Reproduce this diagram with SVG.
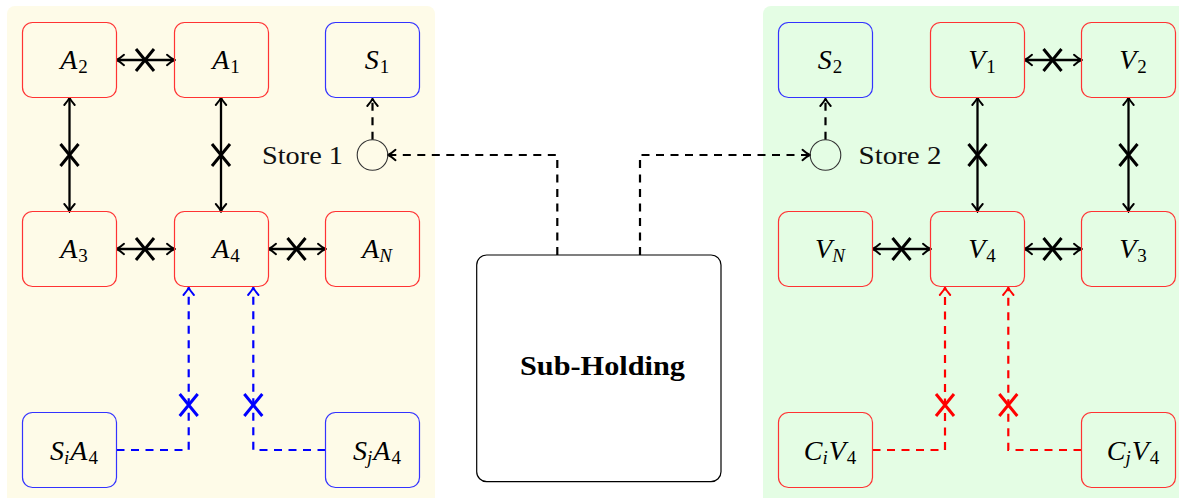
<svg xmlns="http://www.w3.org/2000/svg" xmlns:xlink="http://www.w3.org/1999/xlink" width="1179" height="498" viewBox="0 0 1179 498">
<style>
.rbox{fill:none;stroke:#ff3333;stroke-width:1.2}
.bbox{fill:none;stroke:#3333ff;stroke-width:1.2}
.m{font-family:"Liberation Serif",serif;font-style:italic;font-size:28px;fill:#000;text-anchor:middle}
.sn{font-style:normal;font-size:19px}
.si{font-style:italic;font-size:19px}
.lbl{font-family:"Liberation Serif",serif;font-size:26px;fill:#111}
.k{fill:none;stroke:#000;stroke-width:2.3}
.kd{fill:none;stroke:#000;stroke-width:2.2;stroke-dasharray:8 6.5}
.bd{fill:none;stroke:#0000ff;stroke-width:2.2;stroke-dasharray:8 6.5}
.rd{fill:none;stroke:#ff0000;stroke-width:2.2;stroke-dasharray:8 6.5}
.xk{stroke:#000;stroke-width:3;fill:none}
.xb{stroke:#0000ff;stroke-width:3;fill:none}
.xr{stroke:#ff0000;stroke-width:3;fill:none}
</style>
<defs>
<marker id="ak" viewBox="-10 -7 11 14" refX="0" refY="0" markerWidth="11" markerHeight="14" markerUnits="userSpaceOnUse" orient="auto-start-reverse">
<path d="M-7.5,-5.2 C-4.6,-2.6 -1.8,-0.7 0,0 C-1.8,0.7 -4.6,2.6 -7.5,5.2" fill="none" stroke="#000" stroke-width="1.9" stroke-linecap="round"/>
</marker>
<marker id="ab" viewBox="-10 -7 11 14" refX="0" refY="0" markerWidth="11" markerHeight="14" markerUnits="userSpaceOnUse" orient="auto-start-reverse">
<path d="M-7.5,-5.2 C-4.6,-2.6 -1.8,-0.7 0,0 C-1.8,0.7 -4.6,2.6 -7.5,5.2" fill="none" stroke="#0000ff" stroke-width="1.9" stroke-linecap="round"/>
</marker>
<marker id="ar" viewBox="-10 -7 11 14" refX="0" refY="0" markerWidth="11" markerHeight="14" markerUnits="userSpaceOnUse" orient="auto-start-reverse">
<path d="M-7.5,-5.2 C-4.6,-2.6 -1.8,-0.7 0,0 C-1.8,0.7 -4.6,2.6 -7.5,5.2" fill="none" stroke="#ff0000" stroke-width="1.9" stroke-linecap="round"/>
</marker>
<path id="x" d="M-9,-11 L9,11 M-9,11 L9,-11"/>
</defs>

<g id="backgrounds">
<rect x="7" y="6" width="428" height="500" rx="8" fill="#fefbe8"/>
<rect x="763" y="6" width="430" height="500" rx="8" fill="#e4fde4"/>
</g>

<g id="connectors">
<path class="k" d="M116.5,60 H174.5" marker-start="url(#ak)" marker-end="url(#ak)"/>
<path class="k" d="M69.5,97.5 V211.5" marker-start="url(#ak)" marker-end="url(#ak)"/>
<path class="k" d="M221,97.5 V211.5" marker-start="url(#ak)" marker-end="url(#ak)"/>
<path class="k" d="M116.5,249 H174.5" marker-start="url(#ak)" marker-end="url(#ak)"/>
<path class="k" d="M268.5,249 H325.5" marker-start="url(#ak)" marker-end="url(#ak)"/>
<path class="kd" d="M372.5,139.7 V98.5" marker-end="url(#ak)"/>
<path class="kd" d="M557.3,255 V155 H388" marker-end="url(#ak)"/>
<path class="bd" d="M116.5,450 H188.7 V287.5" marker-end="url(#ab)"/>
<path class="bd" d="M325.5,450 H253.3 V287.5" marker-end="url(#ab)"/>

<path class="k" d="M1024.5,60 H1081.5" marker-start="url(#ak)" marker-end="url(#ak)"/>
<path class="k" d="M977.5,97.5 V211.5" marker-start="url(#ak)" marker-end="url(#ak)"/>
<path class="k" d="M1128.5,97.5 V211.5" marker-start="url(#ak)" marker-end="url(#ak)"/>
<path class="k" d="M872.5,249 H930.5" marker-start="url(#ak)" marker-end="url(#ak)"/>
<path class="k" d="M1024.5,249 H1081.5" marker-start="url(#ak)" marker-end="url(#ak)"/>
<path class="kd" d="M825.5,139.7 V98.5" marker-end="url(#ak)"/>
<path class="kd" d="M640,255 V155 H810" marker-end="url(#ak)"/>
<path class="rd" d="M872.5,450 H945 V287.5" marker-end="url(#ar)"/>
<path class="rd" d="M1081.5,450 H1008.3 V287.5" marker-end="url(#ar)"/>

<use href="#x" class="xk" x="145" y="60"/>
<use href="#x" class="xk" x="69.5" y="155"/>
<use href="#x" class="xk" x="221" y="155"/>
<use href="#x" class="xk" x="145" y="249"/>
<use href="#x" class="xk" x="296.5" y="249"/>
<use href="#x" class="xb" x="188.7" y="405"/>
<use href="#x" class="xb" x="253.3" y="405"/>
<use href="#x" class="xk" x="1052.5" y="60"/>
<use href="#x" class="xk" x="977.5" y="155"/>
<use href="#x" class="xk" x="1128.5" y="155"/>
<use href="#x" class="xk" x="901.5" y="249"/>
<use href="#x" class="xk" x="1052.5" y="249"/>
<use href="#x" class="xr" x="945" y="405"/>
<use href="#x" class="xr" x="1008.3" y="405"/>
</g>

<g id="A2"><rect class="rbox" x="22.5" y="22.5" width="94" height="75" rx="10"/><text class="m" x="74" y="69">A<tspan class="sn" dy="4" dx="1">2</tspan></text></g>
<g id="A1"><rect class="rbox" x="174.5" y="22.5" width="94" height="75" rx="10"/><text class="m" x="226" y="69">A<tspan class="sn" dy="4" dx="1">1</tspan></text></g>
<g id="S1"><rect class="bbox" x="325.5" y="22.5" width="94" height="75" rx="10"/><text class="m" x="377" y="69">S<tspan class="sn" dy="4" dx="1">1</tspan></text></g>
<g id="A3"><rect class="rbox" x="22.5" y="211.5" width="94" height="75" rx="10"/><text class="m" x="74" y="258">A<tspan class="sn" dy="4" dx="1">3</tspan></text></g>
<g id="A4"><rect class="rbox" x="174.5" y="211.5" width="94" height="75" rx="10"/><text class="m" x="226" y="258">A<tspan class="sn" dy="4" dx="1">4</tspan></text></g>
<g id="AN"><rect class="rbox" x="325.5" y="211.5" width="94" height="75" rx="10"/><text class="m" x="377" y="258">A<tspan class="si" dy="4">N</tspan></text></g>
<g id="SiA4"><rect class="bbox" x="22.5" y="412.5" width="94" height="75" rx="10"/><text class="m" x="74" y="460">S<tspan class="si" dy="4">i</tspan><tspan dy="-4" dx="1">A</tspan><tspan class="sn" dy="4" dx="1">4</tspan></text></g>
<g id="SjA4"><rect class="bbox" x="325.5" y="412.5" width="94" height="75" rx="10"/><text class="m" x="377" y="460">S<tspan class="si" dy="4">j</tspan><tspan dy="-4" dx="1">A</tspan><tspan class="sn" dy="4" dx="1">4</tspan></text></g>
<g id="Store1"><circle cx="372.5" cy="155" r="15.3" fill="none" stroke="#333" stroke-width="1.1"/><text class="lbl" x="343" y="164" text-anchor="end" textLength="81" lengthAdjust="spacingAndGlyphs">Store 1</text></g>

<g id="SubHolding"><rect x="476.7" y="255" width="244.3" height="226.7" rx="10" fill="#fff" stroke="#000" stroke-width="1.2"/><text x="602.5" y="375" font-family="Liberation Serif, serif" font-weight="bold" font-size="27" text-anchor="middle" textLength="165" lengthAdjust="spacingAndGlyphs">Sub-Holding</text></g>

<g id="S2"><rect class="bbox" x="778.5" y="22.5" width="94" height="75" rx="10"/><text class="m" x="830" y="69">S<tspan class="sn" dy="4" dx="1">2</tspan></text></g>
<g id="V1"><rect class="rbox" x="930.5" y="22.5" width="94" height="75" rx="10"/><text class="m" x="982" y="69">V<tspan class="sn" dy="4" dx="1">1</tspan></text></g>
<g id="V2"><rect class="rbox" x="1081.5" y="22.5" width="94" height="75" rx="10"/><text class="m" x="1133" y="69">V<tspan class="sn" dy="4" dx="1">2</tspan></text></g>
<g id="VN"><rect class="rbox" x="778.5" y="211.5" width="94" height="75" rx="10"/><text class="m" x="830" y="258">V<tspan class="si" dy="4">N</tspan></text></g>
<g id="V4"><rect class="rbox" x="930.5" y="211.5" width="94" height="75" rx="10"/><text class="m" x="982" y="258">V<tspan class="sn" dy="4" dx="1">4</tspan></text></g>
<g id="V3"><rect class="rbox" x="1081.5" y="211.5" width="94" height="75" rx="10"/><text class="m" x="1133" y="258">V<tspan class="sn" dy="4" dx="1">3</tspan></text></g>
<g id="CiV4"><rect class="rbox" x="778.5" y="412.5" width="94" height="75" rx="10"/><text class="m" x="830" y="460">C<tspan class="si" dy="4">i</tspan><tspan dy="-4" dx="1">V</tspan><tspan class="sn" dy="4" dx="1">4</tspan></text></g>
<g id="CjV4"><rect class="rbox" x="1081.5" y="412.5" width="94" height="75" rx="10"/><text class="m" x="1133" y="460">C<tspan class="si" dy="4">j</tspan><tspan dy="-4" dx="1">V</tspan><tspan class="sn" dy="4" dx="1">4</tspan></text></g>
<g id="Store2"><circle cx="825.5" cy="155" r="15.3" fill="none" stroke="#333" stroke-width="1.1"/><text class="lbl" x="858.5" y="164" textLength="83" lengthAdjust="spacingAndGlyphs">Store 2</text></g>
</svg>
